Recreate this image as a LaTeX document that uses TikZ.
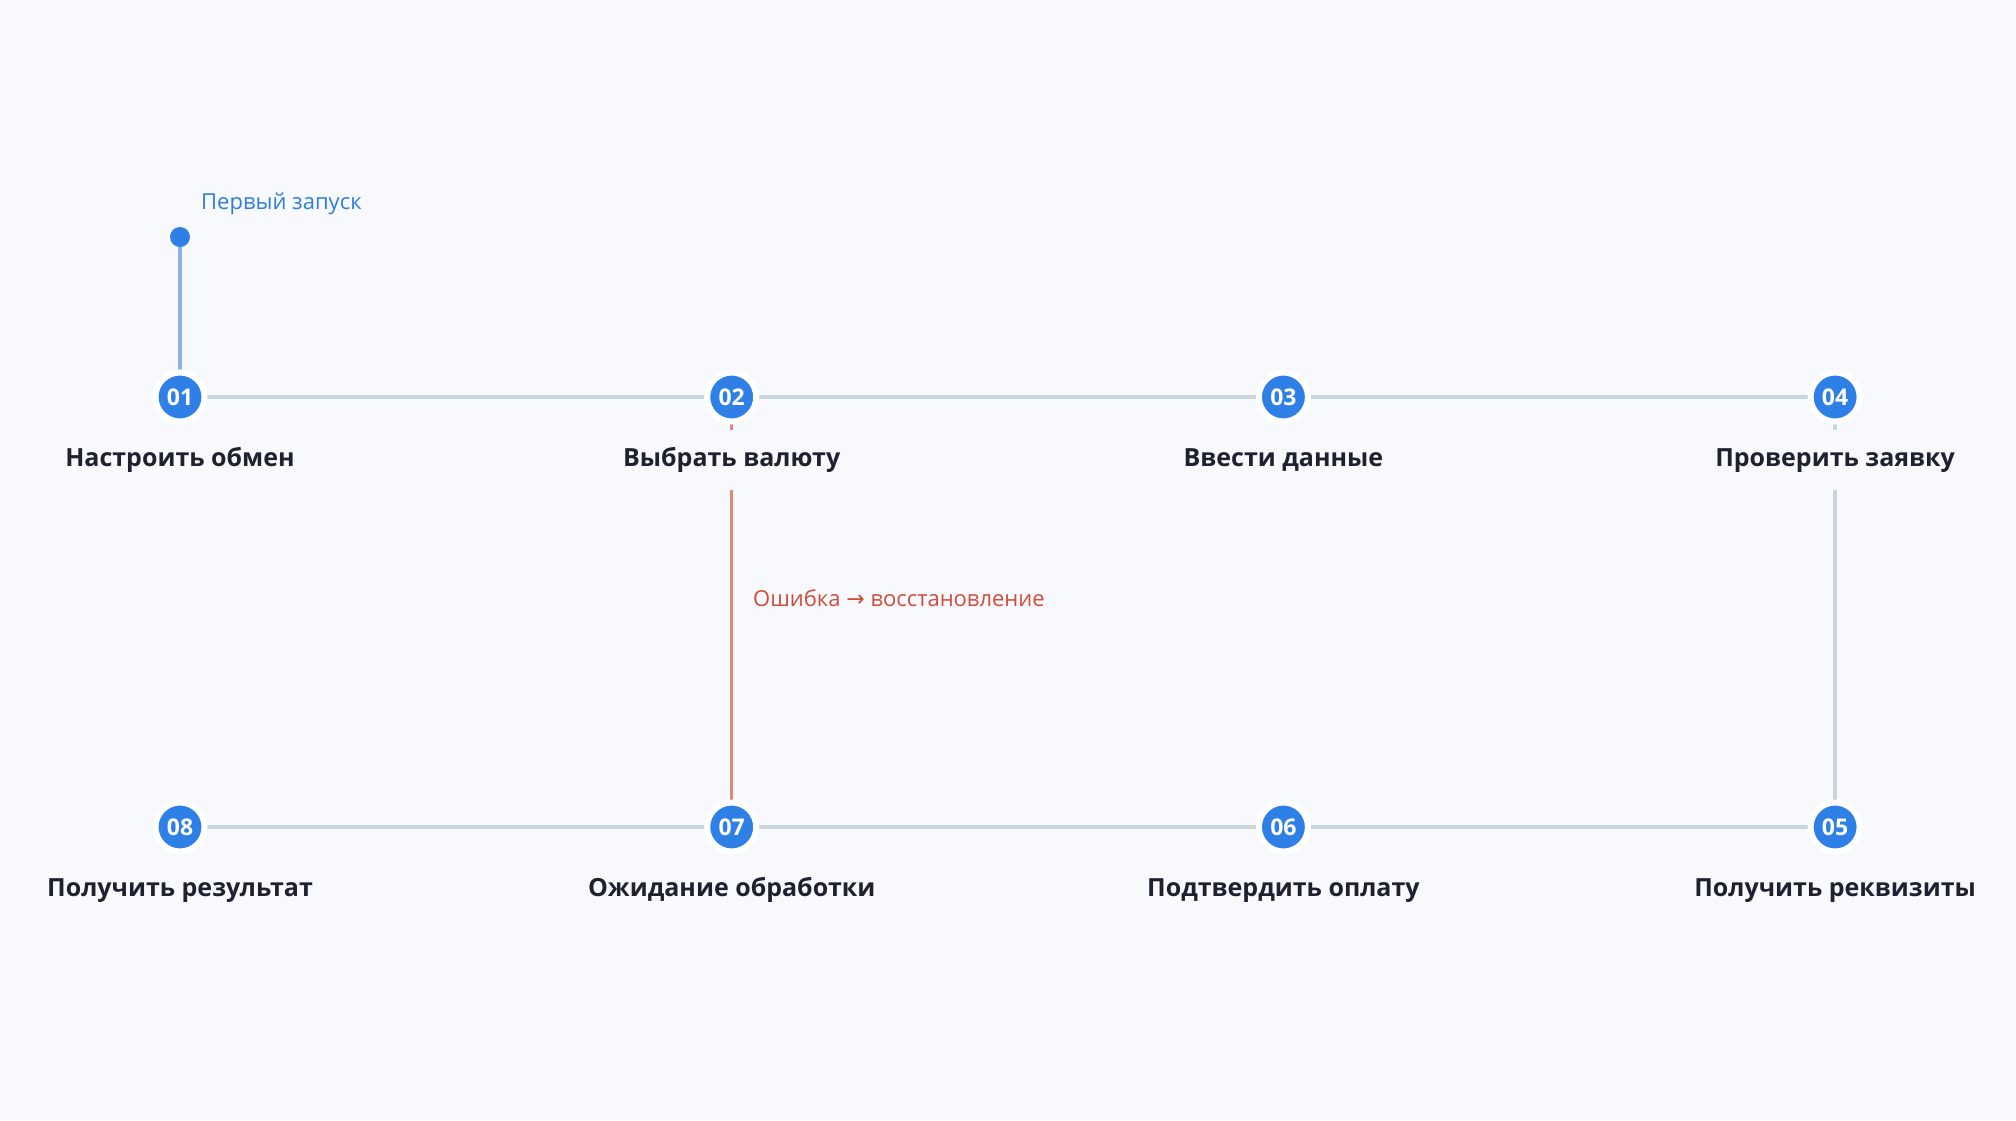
\documentclass[tikz,border=0pt]{standalone}
\usepackage{fontspec}
\setmainfont{Open Sans}
\newfontfamily\arrowfont{DejaVu Sans}
\usetikzlibrary{positioning}
\definecolor{bgc}{HTML}{F7F9FC}
\definecolor{stepblue}{HTML}{2E7FE6}
\definecolor{gridc}{HTML}{CAD5E0}
\definecolor{errline}{HTML}{E08878}
\definecolor{errtext}{HTML}{D04C3C}
\definecolor{infoblue}{HTML}{2F7FDD}
\definecolor{infoline}{HTML}{8CB4E2}
\definecolor{darktext}{HTML}{1E2230}
\pgfdeclarelayer{bglayer}
\pgfdeclarelayer{edgelayer}
\pgfsetlayers{bglayer,edgelayer,main}
\tikzset{
  stepdot/.style={circle, fill=stepblue, draw=white, line width=6pt, minimum size=49pt, inner sep=0pt,
    text=white, font=\fontsize{23}{23}\selectfont\bfseries},
  steplabel/.style={fill=bgc, inner sep=0pt, minimum height=60pt, text height=19pt, text depth=6pt,
    text=darktext, font=\fontsize{25}{25}\selectfont\bfseries},
  flowline/.style={draw=gridc, line width=4pt},
  errorline/.style={draw=errline, line width=3.5pt},
  startline/.style={draw=infoline, line width=3.5pt},
  startdot/.style={circle, fill=stepblue, minimum size=20pt, inner sep=0pt},
  note/.style={font=\fontsize{22}{22}\selectfont, inner sep=0pt}
}
\begin{document}
\begin{tikzpicture}[x=1pt,y=-1pt]
\begin{pgfonlayer}{bglayer}
\fill[bgc] (0,0) rectangle (2016,1120);
\end{pgfonlayer}
\useasboundingbox (0,0) rectangle (2016,1120);
% steps
\node[stepdot] (n1) at (180,397) {01};
\node[stepdot] (n2) at (731.7,397) {02};
\node[stepdot] (n3) at (1283.4,397) {03};
\node[stepdot] (n4) at (1835.1,397) {04};
\node[stepdot] (n5) at (1835.1,827) {05};
\node[stepdot] (n6) at (1283.4,827) {06};
\node[stepdot] (n7) at (731.7,827) {07};
\node[stepdot] (n8) at (180,827) {08};
% labels
\node[steplabel] (l1) at (180,460) {Настроить обмен};
\node[steplabel] (l2) at (731.7,460) {Выбрать валюту};
\node[steplabel] (l3) at (1283.4,460) {Ввести данные};
\node[steplabel] (l4) at (1835.1,460) {Проверить заявку};
\node[steplabel] (l5) at (1835.1,890) {Получить реквизиты};
\node[steplabel] (l6) at (1283.4,890) {Подтвердить оплату};
\node[steplabel] (l7) at (731.7,890) {Ожидание обработки};
\node[steplabel] (l8) at (180,890) {Получить результат};
% start
\node[startdot] (s0) at (180,237) {};
\node[note, text=infoblue, anchor=base west] (t0) at (201,209) {Первый запуск};
\node[note, text=errtext, anchor=base west] (t1) at (753,606) {Ошибка {\arrowfont →} восстановление};
\begin{pgfonlayer}{edgelayer}
\draw[flowline] (n1.center) -- (n2.center) -- (n3.center) -- (n4.center) -- (n5.center) -- (n6.center) -- (n7.center) -- (n8.center);
\draw[errorline] (n2.center) -- (n7.center);
\draw[startline] (s0.center) -- (n1.center);
\end{pgfonlayer}
\end{tikzpicture}
\end{document}
